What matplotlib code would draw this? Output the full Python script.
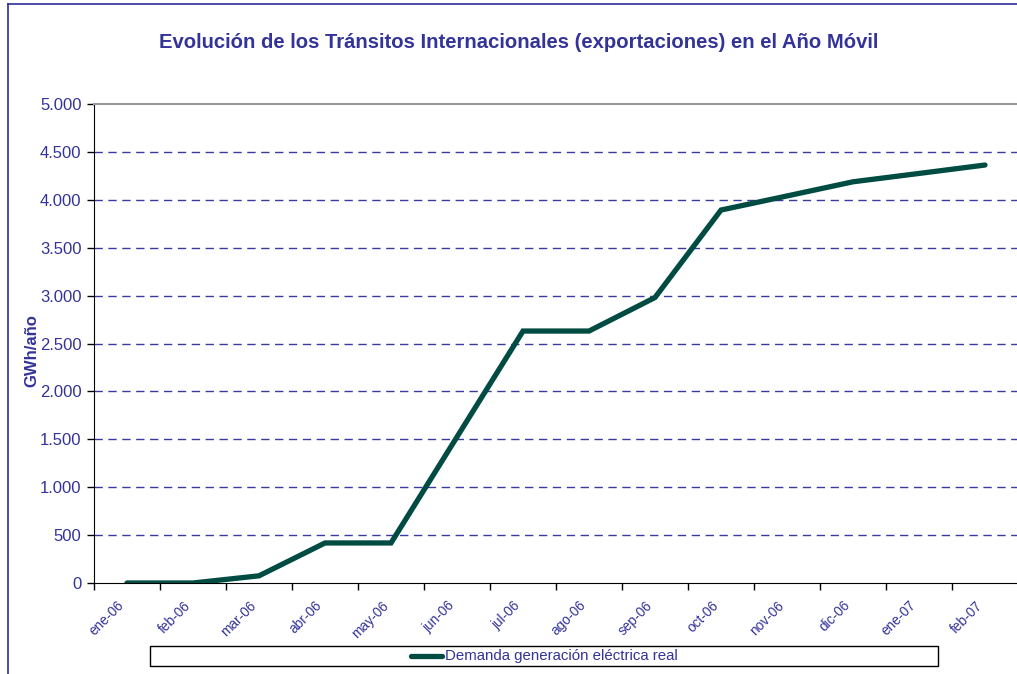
import matplotlib
matplotlib.use("Agg")
import matplotlib.pyplot as plt
from matplotlib.lines import Line2D
from matplotlib.patches import Rectangle
from matplotlib.transforms import ScaledTranslation

plt.rcParams['font.family'] = ['Liberation Sans', 'DejaVu Sans']

categories = ["ene-06", "feb-06", "mar-06", "abr-06", "may-06", "jun-06", "jul-06",
              "ago-06", "sep-06", "oct-06", "nov-06", "dic-06", "ene-07", "feb-07"]
values = [0, 0, 75, 418, 418, 1525, 2630, 2630, 2980, 3893, 4040, 4188, 4275, 4363]
yticks = [0, 500, 1000, 1500, 2000, 2500, 3000, 3500, 4000, 4500, 5000]
ytick_labels = ["0", "500", "1.000", "1.500", "2.000", "2.500", "3.000",
                "3.500", "4.000", "4.500", "5.000"]

TXT = "#333399"
LINE = "#004C42"
W, H = 1017, 674

fig = plt.figure(figsize=(W / 100, H / 100), dpi=100)
ax = fig.add_axes([94 / W, (H - 583) / H, 924 / W, 479 / H])

x = list(range(len(categories)))
ax.plot(x, values, color=LINE, lw=3.8, solid_capstyle='round', solid_joinstyle='miter', zorder=3)

ax.set_xlim(-0.5, len(categories) - 0.5)
ax.set_ylim(0, 5000)

# y axis
ax.set_yticks(yticks)
ax.set_yticklabels(ytick_labels, color=TXT, fontsize=12)
ax.tick_params(axis='y', direction='out', length=5, width=1, color='black', pad=4)
for v in yticks[1:-1]:
    ax.axhline(v, color='#3A3AA0', lw=1, ls=(0, (6, 4)), zorder=1)

# x axis: boundary ticks + labels at centers
ax.set_xticks([i - 0.5 for i in range(len(categories) + 1)])
ax.set_xticklabels([])
ax.tick_params(axis='x', which='major', direction='out', length=5, width=1, color='black')
ax.set_xticks(x, minor=True)
ax.set_xticklabels(categories, minor=True, rotation=45, ha='right',
                   rotation_mode='anchor', color=TXT, fontsize=9.8)
ax.tick_params(axis='x', which='minor', length=0, pad=11)
off = ScaledTranslation(-10 / 100, 0, fig.dpi_scale_trans)
for lbl in ax.get_xticklabels(minor=True):
    lbl.set_transform(lbl.get_transform() + off)

ax.spines['right'].set_visible(False)
ax.spines['top'].set_color('#999999')
ax.spines['top'].set_linewidth(1.5)
ax.spines['left'].set_color('black')
ax.spines['bottom'].set_color('black')

ax.set_ylabel("GWh/año", color=TXT, fontsize=12, fontweight='bold')
ax.yaxis.set_label_coords(-55 / 924, 0.485)

fig.text(519 / W, 1 - 43 / H, "Evolución de los Tránsitos Internacionales (exportaciones) en el Año Móvil",
         ha='center', va='center', color=TXT, fontsize=14.6, fontweight='bold')

# legend box
fig.patches.append(Rectangle((150 / W, 1 - 666 / H), 788 / W, 20 / H, transform=fig.transFigure,
                             fill=False, edgecolor='black', lw=1, figure=fig))
fig.lines.append(Line2D([411 / W, 442 / W], [1 - 656 / H, 1 - 656 / H], transform=fig.transFigure,
                        color=LINE, lw=3.8, solid_capstyle='round', figure=fig))
fig.text(445 / W, 1 - 656 / H, "Demanda generación eléctrica real", ha='left', va='center',
         color=TXT, fontsize=10.8)

# figure border (top & left)
fig.lines.append(Line2D([8 / W, 8 / W], [0, 1 - 4 / H], transform=fig.transFigure,
                        color='#2E2E9A', lw=1.2, figure=fig))
fig.lines.append(Line2D([8 / W, 1], [1 - 4 / H, 1 - 4 / H], transform=fig.transFigure,
                        color='#2E2E9A', lw=1.2, figure=fig))

fig.savefig("out.png", dpi=100)
